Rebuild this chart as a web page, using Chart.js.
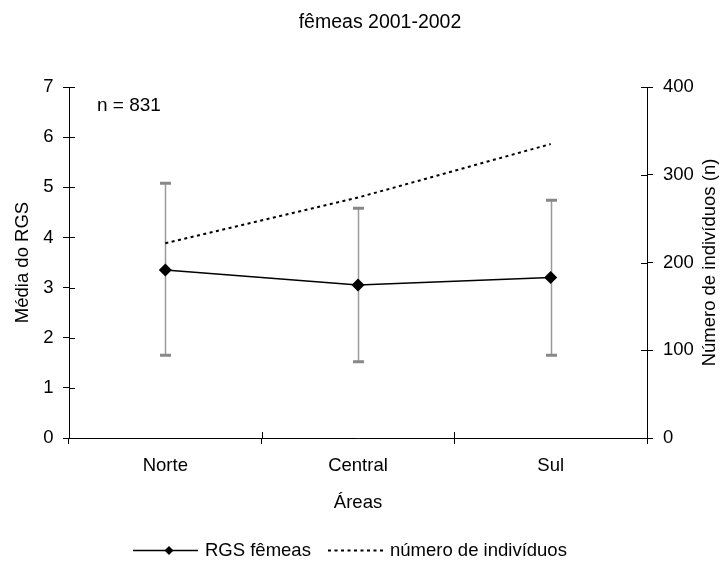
<!DOCTYPE html>
<html>
<head>
<meta charset="utf-8">
<script src="https://cdn.jsdelivr.net/npm/chart.js@4.4.0/dist/chart.umd.min.js"></script>
<style>
  html, body { margin: 0; background: #fff; }
</style>
</head>
<body>
<canvas id="grafico" width="725" height="565"></canvas>
<script>
// dados por área
const areas = ['Norte', 'Central', 'Sul'];
const rgsMedia = [3.35, 3.05, 3.2];
const rgsMax = [5.08, 4.58, 4.74];
const rgsMin = [1.65, 1.52, 1.65];
const nIndividuos = [222, 274, 335];
const nTotal = 831;

const FONTE = "'Liberation Sans', Arial, sans-serif";

// barras de erro (min-max) atrás da linha
const barrasErro = {
    id: 'barrasErro',
    beforeDatasetsDraw(chart) {
        const { ctx, scales: { x, y } } = chart;
        ctx.save();
        areas.forEach((a, i) => {
            const px = Math.round(x.getPixelForValue(i)) + 0.5;
            const top = y.getPixelForValue(rgsMax[i]);
            const bot = y.getPixelForValue(rgsMin[i]);
            ctx.strokeStyle = '#9a9a9a'; ctx.lineWidth = 1.5;
            ctx.beginPath(); ctx.moveTo(px, top); ctx.lineTo(px, bot); ctx.stroke();
            ctx.strokeStyle = '#888'; ctx.lineWidth = 3;
            ctx.beginPath();
            ctx.moveTo(px - 5.5, top); ctx.lineTo(px + 5.5, top);
            ctx.moveTo(px - 5.5, bot); ctx.lineTo(px + 5.5, bot);
            ctx.stroke();
        });
        ctx.restore();
    }
};

// título, legenda, marcas cruzando os eixos, "n =" e título do eixo direito
const extras = {
    id: 'extras',
    afterDraw(chart) {
        const { ctx, chartArea, scales: { x, y, y2 } } = chart;
        ctx.save();
        ctx.strokeStyle = '#000'; ctx.lineWidth = 1;
        ctx.beginPath();
        for (let i = 0; i <= areas.length; i++) {
            const px = Math.round(x.getPixelForValue(i - 0.5)) + 0.5;
            ctx.moveTo(px, chartArea.bottom); ctx.lineTo(px, chartArea.bottom - 6);
        }
        y.ticks.forEach(t => {
            const py = Math.round(y.getPixelForValue(t.value)) + 0.5;
            ctx.moveTo(chartArea.left, py); ctx.lineTo(chartArea.left + 6, py);
        });
        y2.ticks.forEach(t => {
            const py = Math.round(y2.getPixelForValue(t.value)) + 0.5;
            ctx.moveTo(chartArea.right, py); ctx.lineTo(chartArea.right - 6, py);
        });
        ctx.stroke();

        ctx.fillStyle = '#000';
        ctx.textBaseline = 'middle';

        // título
        ctx.font = '19.5px ' + FONTE;
        ctx.textAlign = 'center';
        ctx.fillText('fêmeas 2001-2002', 380, 23);

        // n total
        ctx.font = '19px ' + FONTE;
        ctx.textAlign = 'left';
        ctx.fillText('n = ' + nTotal, chartArea.left + 28, chartArea.top + 19);

        // legenda
        const ly = 550.5;
        ctx.font = '18.5px ' + FONTE;
        ctx.lineWidth = 1.5;
        ctx.beginPath(); ctx.moveTo(133, ly); ctx.lineTo(198, ly); ctx.stroke();
        ctx.beginPath();
        ctx.moveTo(169, ly - 4.5); ctx.lineTo(173.5, ly); ctx.lineTo(169, ly + 4.5); ctx.lineTo(164.5, ly);
        ctx.closePath(); ctx.fill();
        ctx.fillText(chart.data.datasets[0].label, 205, ly);
        ctx.lineWidth = 2; ctx.setLineDash([3, 3.5]);
        ctx.beginPath(); ctx.moveTo(328, ly); ctx.lineTo(384, ly); ctx.stroke();
        ctx.setLineDash([]);
        ctx.fillText(chart.data.datasets[1].label, 390, ly);

        // título do eixo direito
        ctx.font = '18.5px ' + FONTE;
        ctx.textAlign = 'center';
        ctx.translate(710, (chartArea.top + chartArea.bottom) / 2);
        ctx.rotate(-Math.PI / 2);
        ctx.fillText('Número de indivíduos (n)', 0, 0);
        ctx.restore();
    }
};

Chart.defaults.font.family = FONTE;
Chart.defaults.font.size = 18.5;
Chart.defaults.color = '#000';

new Chart(document.getElementById('grafico'), {
    type: 'line',
    data: {
        labels: areas,
        datasets: [{
            label: 'RGS fêmeas',
            data: rgsMedia,
            yAxisID: 'y',
            borderColor: '#000',
            borderWidth: 1.5,
            pointStyle: 'rectRot',
            pointRadius: 5.5,
            pointBackgroundColor: '#000',
            pointBorderColor: '#000',
            tension: 0
        }, {
            label: 'número de indivíduos',
            data: nIndividuos,
            yAxisID: 'y2',
            borderColor: '#000',
            borderWidth: 2,
            borderDash: [3, 3.5],
            pointRadius: 0,
            tension: 0
        }]
    },
    options: {
        responsive: false,
        animation: false,
        layout: { padding: { left: 0, right: 0, top: 87, bottom: 34 } },
        plugins: {
            title: { display: false },
            legend: { display: false },
            tooltip: { enabled: false }
        },
        scales: {
            x: {
                offset: true,
                grid: { offset: true, drawOnChartArea: false, tickLength: 6, color: '#000' },
                border: { color: '#000' },
                ticks: { padding: 11 },
                title: { display: true, text: 'Áreas', padding: { top: 0, bottom: 17 } },
                afterFit: s => { s.height = 93; }
            },
            y: {
                position: 'left',
                min: 0, max: 7,
                ticks: { stepSize: 1, padding: 9.5 },
                grid: { drawOnChartArea: false, tickLength: 6, color: '#000' },
                border: { color: '#000' },
                title: { display: true, text: 'Média do RGS', padding: { top: 12, bottom: 0 } },
                afterFit: s => { s.width = 69; }
            },
            y2: {
                position: 'right',
                min: 0, max: 400,
                ticks: { stepSize: 100, padding: 10 },
                grid: { drawOnChartArea: false, tickLength: 6, color: '#000' },
                border: { color: '#000' },
                afterFit: s => { s.width = 78; }
            }
        }
    },
    plugins: [barrasErro, extras]
});
</script>
</body>
</html>
